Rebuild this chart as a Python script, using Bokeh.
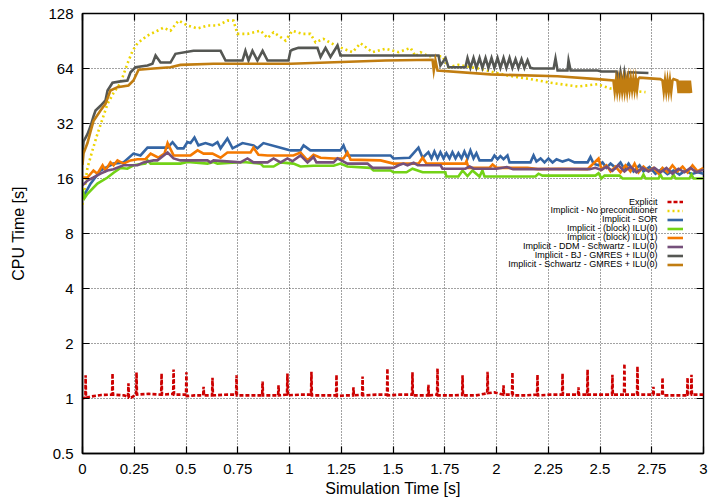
from bokeh.plotting import figure
from bokeh.models import (Range1d, FixedTicker, Legend, LegendItem, Label,
                          LinearAxis, LogAxis, NumeralTickFormatter)
from bokeh.embed import file_html
from bokeh.resources import INLINE

FONT = "Liberation Sans"

# ---------------- axes ----------------
x_ticks = [0, 0.25, 0.5, 0.75, 1, 1.25, 1.5, 1.75, 2, 2.25, 2.5, 2.75, 3]
x_tick_labels = ["0", "0.25", "0.5", "0.75", "1", "1.25", "1.5", "1.75", "2",
                 "2.25", "2.5", "2.75", "3"]
y_ticks = [0.5, 1, 2, 4, 8, 16, 32, 64, 128]
y_tick_labels = ["0.5", "1", "2", "4", "8", "16", "32", "64", "128"]

series_names = [
    "Explicit",
    "Implicit - No preconditioner",
    "Implicit - SOR",
    "Implicit - (block) ILU(0)",
    "Implicit - (block) ILU(1)",
    "Implicit - DDM - Schwartz - ILU(0)",
    "Implicit - BJ - GMRES + ILU(0)",
    "Implicit - Schwartz - GMRES + ILU(0)",
]

# ---------------- data ----------------
red_x = [0.000, 0.010, 0.014, 0.015, 0.017,
         0.040, 0.090,
         0.143, 0.145, 0.147,
         0.200,
         0.220, 0.222, 0.224,
         0.235,
         0.259, 0.261, 0.263,
         0.320,
         0.380, 0.382, 0.384,
         0.438, 0.440, 0.442,
         0.500, 0.502, 0.504,
         0.540,
         0.583, 0.585, 0.587,
         0.626, 0.628, 0.630,
         0.700,
         0.742, 0.744, 0.746,
         0.800,
         0.868, 0.870, 0.872,
         0.945, 0.947, 0.949,
         0.988, 0.990, 0.992,
         1.050,
         1.104, 1.106, 1.108,
         1.170,
         1.225, 1.227, 1.229,
         1.270,
         1.307, 1.309, 1.311,
         1.351, 1.353, 1.355,
         1.420,
         1.471, 1.473, 1.475,
         1.530,
         1.592, 1.594, 1.596,
         1.669, 1.671, 1.673,
         1.713, 1.715, 1.717,
         1.790,
         1.834, 1.836, 1.838,
         1.900,
         1.940,
         1.955, 1.957, 1.959,
         1.990,
         2.032, 2.034, 2.036,
         2.075, 2.077, 2.079,
         2.140,
         2.196, 2.198, 2.200,
         2.260,
         2.317, 2.319, 2.321,
         2.394, 2.396, 2.398,
         2.438, 2.440, 2.442,
         2.500,
         2.558, 2.560, 2.562,
         2.616, 2.618, 2.620,
         2.679, 2.681, 2.683,
         2.720,
         2.756, 2.758, 2.760,
         2.800, 2.802, 2.804,
         2.860,
         2.921, 2.923, 2.925,
         2.940, 2.942, 2.944,
         3.000]
red_y = [1.00, 1.01, 1.01, 1.34, 1.01,
         1.025, 1.045,
         1.05, 1.37, 1.05,
         1.04,
         1.02, 1.21, 1.01,
         1.01,
         1.05, 1.39, 1.05,
         1.06,
         1.05, 1.37, 1.05,
         1.06, 1.44, 1.05,
         1.05, 1.39, 1.03,
         1.04,
         1.04, 1.16, 1.04,
         1.04, 1.30, 1.04,
         1.05,
         1.05, 1.34, 1.04,
         1.04,
         1.04, 1.24, 1.04,
         1.04, 1.18, 1.04,
         1.05, 1.37, 1.04,
         1.05,
         1.05, 1.40, 1.04,
         1.04,
         1.04, 1.35, 1.03,
         1.04,
         1.04, 1.15, 1.04,
         1.05, 1.32, 1.04,
         1.05,
         1.05, 1.46, 1.04,
         1.05,
         1.05, 1.39, 1.04,
         1.04, 1.19, 1.04,
         1.05, 1.46, 1.04,
         1.04,
         1.045, 1.34, 1.04,
         1.04,
         1.06,
         1.07, 1.40, 1.07,
         1.08,
         1.05, 1.18, 1.05,
         1.05, 1.39, 1.04,
         1.04,
         1.05, 1.35, 1.04,
         1.05,
         1.05, 1.37, 1.05,
         1.05, 1.15, 1.05,
         1.05, 1.44, 1.05,
         1.05,
         1.05, 1.35, 1.05,
         1.05, 1.55, 1.05,
         1.05, 1.50, 1.05,
         1.05,
         1.05, 1.16, 1.05,
         1.05, 1.30, 1.04,
         1.04,
         1.04, 1.30, 1.05,
         1.05, 1.35, 1.05,
         1.05]

np_x = [0.000, 0.010, 0.024, 0.048, 0.072, 0.097, 0.121, 0.150, 0.184, 0.217,
        0.242, 0.266, 0.314, 0.362, 0.391, 0.425, 0.464, 0.507, 0.556, 0.604,
        0.652, 0.700, 0.729, 0.749, 0.797, 0.860, 0.894, 0.923, 0.981, 1.014,
        1.063, 1.101, 1.126, 1.164, 1.222, 1.304, 1.343, 1.401, 1.464, 1.527,
        1.585, 1.609, 1.633, 1.671, 1.739, 1.768, 1.816, 1.913, 1.971, 2.053,
        2.164, 2.261, 2.391, 2.488, 2.551, 2.647, 2.720]
np_y = [11.5, 14, 18.3, 22.8, 28, 34, 41, 47, 53.5, 68,
        80, 88, 97, 103, 107, 103, 117, 110, 106, 110,
        110, 117, 117, 99, 99, 103, 94, 101, 91, 103,
        99, 99, 89, 93, 85.5, 78.6, 88, 78.6, 82, 78.6,
        83, 74.7, 78.6, 74.7, 74.7, 65, 67, 64, 61.6, 58.6,
        56, 53.5, 51, 52.5, 49.7, 48.5, 47.5]

sor_x = [0.000, 0.039, 0.087, 0.150, 0.198, 0.246, 0.280, 0.314, 0.411, 0.435,
         0.459, 0.488, 0.507, 0.522, 0.541, 0.560, 0.594, 0.628, 0.652, 0.667,
         0.700, 0.725, 0.773, 0.826, 0.845, 0.874, 0.957, 1.005, 1.053, 1.068,
         1.101, 1.246, 1.261, 1.280, 1.488, 1.502, 1.580, 1.623, 1.643, 1.671,
         1.686, 1.700, 1.715, 1.729, 1.744, 1.758, 1.773, 1.787, 1.802, 1.816,
         1.831, 1.845, 1.860, 1.874, 1.889, 1.903, 1.918, 1.976, 1.990, 2.005,
         2.019, 2.034, 2.053, 2.063, 2.164, 2.179, 2.193, 2.213, 2.232, 2.251,
         2.271, 2.290, 2.319, 2.348, 2.377, 2.440, 2.454, 2.469, 2.493, 2.512,
         2.531, 2.551, 2.575, 2.599, 2.618, 2.638, 2.662, 2.691, 2.710, 2.739,
         2.768, 2.797, 2.826, 2.855, 2.884, 2.913, 2.942, 2.971, 3.000]
sor_y = [12.5, 15, 17.7, 19.3, 19.6, 21.9, 21.4, 23.6, 23.6, 25.3,
         23.4, 23.4, 25.3, 25, 26.8, 24.3, 25, 24.3, 25.3, 23.4,
         26.5, 23.4, 25, 24.3, 23.4, 25, 23.6, 22.8, 22.8, 24.3,
         22.8, 22.8, 24.3, 21.4, 21.4, 20.6, 20.8, 23.6, 20.8, 22.3,
         20.6, 22.5, 20.6, 22.3, 20.6, 22, 20.6, 22.3, 20.6, 22,
         20.6, 22.5, 20.6, 22.8, 20.6, 22, 20.1, 20.1, 21.4, 20.4,
         21.2, 20.4, 21.4, 19.6, 19.6, 21.4, 19.8, 20.6, 19.6, 20.6,
         19.6, 20.4, 19.8, 20.3, 19.6, 19.6, 21, 19.3, 18.9, 19.6,
         18.3, 19.3, 18.3, 19.6, 18.0, 19.3, 17.5, 18.9, 17.5, 18.5,
         17.0, 18.0, 16.9, 17.7, 16.8, 17.7, 16.9, 17.3, 17.0]

ilu0_x = [0.000, 0.010, 0.024, 0.072, 0.121, 0.150, 0.184, 0.217, 0.246, 0.304,
          0.314, 0.329, 0.473, 0.507, 0.604, 0.633, 0.652, 0.778, 0.860, 0.874,
          0.923, 0.957, 1.019, 1.053, 1.116, 1.213, 1.246, 1.280, 1.391, 1.406,
          1.488, 1.502, 1.565, 1.594, 1.643, 1.753, 1.758, 1.816, 1.836, 1.860,
          1.884, 1.918, 1.932, 1.942, 2.188, 2.203, 2.222, 2.478, 2.493, 2.507,
          2.522, 2.594, 2.609, 2.700, 2.710, 2.720, 2.783, 2.792, 2.802, 2.845,
          2.855, 2.865, 2.932, 2.942, 2.952, 3.000]
ilu0_y = [14, 12.5, 13.2, 15, 16.2, 17.2, 18.3, 18.1, 18.9, 19.3,
          20.1, 19.3, 19.3, 19.7, 19.3, 19.7, 19.3, 19.7, 19.3, 18.6,
          18.6, 19.6, 19.3, 18.6, 18.8, 18.8, 19.3, 18.6, 18.3, 17.7,
          17.7, 17.3, 17.3, 18.1, 17.3, 17.3, 16.4, 16.4, 17.7, 16.5,
          17.7, 16.4, 17.7, 16.4, 16.4, 17.0, 16.6, 16.6, 17.1, 16.0,
          16.6, 16.6, 16.0, 16.0, 16.8, 16.0, 16.0, 16.8, 16.0, 16.0,
          16.8, 16.0, 16.0, 16.8, 16.0, 16.0]

ilu1_x = [0.000, 0.024, 0.053, 0.072, 0.097, 0.111, 0.135, 0.150, 0.169, 0.198,
          0.232, 0.266, 0.304, 0.329, 0.367, 0.396, 0.411, 0.440, 0.522, 0.556,
          0.585, 0.628, 0.667, 0.700, 0.812, 0.826, 0.850, 0.894, 1.019, 1.053,
          1.087, 1.116, 1.150, 1.213, 1.261, 1.280, 1.295, 1.440, 1.502, 1.623,
          1.643, 1.662, 1.850, 1.855, 1.865, 1.966, 1.981, 2.000, 2.150, 2.200,
          2.300, 2.440, 2.493, 2.507, 2.531, 2.551, 2.575, 2.599, 2.623, 2.647,
          2.667, 2.686, 2.710, 2.734, 2.758, 2.783, 2.802, 2.826, 2.850, 2.874,
          2.899, 2.923, 2.947, 2.971, 3.000]
ilu1_y = [16.2, 16.2, 17.7, 17.0, 18.9, 17.7, 19.6, 18.9, 20.1, 19.3,
          20.1, 20.4, 20.4, 21.9, 20.8, 21.9, 25, 21.4, 21.4, 22.8,
          21.9, 21.9, 20.8, 22.2, 22.2, 23.6, 21.6, 21.4, 21.4, 22.2,
          20.1, 21.6, 20.8, 20.6, 20.6, 22.2, 20.3, 20.1, 19.3, 19.3,
          20.8, 19.3, 19.3, 19.9, 18.3, 18.3, 19.1, 18.3, 18.3, 18.0,
          18.1, 18.0, 20.6, 18.0, 18.9, 17.5, 18.6, 17.3, 18.9, 17.5,
          19.3, 17.3, 18.6, 17.6, 18.3, 17.0, 18.3, 17.3, 18.9, 17.5,
          18.6, 17.3, 18.9, 17.5, 18.3]

ddm_x = [0.000, 0.024, 0.053, 0.087, 0.121, 0.150, 0.198, 0.266, 0.295, 0.343,
         0.362, 0.411, 0.440, 0.473, 0.604, 0.618, 0.633, 0.763, 0.797, 0.826,
         0.894, 0.923, 0.957, 0.990, 1.014, 1.053, 1.087, 1.116, 1.130, 1.213,
         1.232, 1.280, 1.377, 1.401, 1.502, 1.527, 1.550, 1.570, 1.600, 1.620,
         1.730, 1.739, 1.850, 1.870, 1.890, 2.000, 2.050, 2.080, 2.300, 2.450,
         2.478, 2.507, 2.531, 2.560, 2.589, 2.618, 2.647, 2.676, 2.705, 2.734,
         2.763, 2.792, 2.821, 2.850, 2.879, 2.908, 2.937, 2.966, 3.000]
ddm_y = [14.7, 15.6, 16.2, 17.0, 17.7, 18.0, 18.9, 18.9, 19.6, 20.1,
         20.1, 22.2, 20.6, 20.1, 20.1, 19.6, 20.1, 19.6, 20.6, 19.6,
         19.6, 20.6, 19.6, 20.6, 19.9, 21.4, 19.6, 21.0, 19.6, 19.6,
         20.6, 19.3, 19.3, 18.3, 18.3, 18.9, 19.3, 18.9, 19.5, 18.9,
         18.9, 18.1, 18.1, 18.6, 18.1, 18.1, 18.5, 18.0, 18.0, 18.0,
         18.3, 17.8, 18.6, 17.6, 18.9, 17.5, 18.6, 17.3, 18.3, 17.5,
         18.3, 17.3, 18.3, 17.0, 18.1, 17.3, 18.3, 17.3, 17.9]

bj_x = [0.000, 0.005, 0.015, 0.024, 0.039, 0.053, 0.063, 0.087, 0.111, 0.121,
        0.145, 0.184, 0.217, 0.232, 0.256, 0.314, 0.338, 0.353, 0.377, 0.425,
        0.449, 0.536, 0.667, 0.691, 0.773, 0.787, 0.802, 0.821, 0.845, 0.870,
        0.894, 0.995, 1.005, 1.014, 1.043, 1.135, 1.150, 1.174, 1.198, 1.232,
        1.246, 1.464, 1.720, 1.729, 1.754, 1.768, 1.850, 1.860, 1.874, 1.889,
        1.903, 1.918, 1.932, 1.947, 1.961, 1.976, 1.990, 2.005, 2.019, 2.034,
        2.048, 2.063, 2.077, 2.092, 2.106, 2.121, 2.135, 2.150, 2.164, 2.179,
        2.276, 2.285, 2.295, 2.343, 2.348, 2.358, 2.488, 2.507, 2.580, 2.589,
        2.599, 2.609, 2.618, 2.628, 2.638, 2.734]
bj_y = [22, 25.5, 26.8, 28, 31, 35, 37.7, 40, 42.8, 48.5,
        53.5, 54.4, 55, 61, 65, 66.5, 68, 75.4, 69, 69,
        77, 80, 80, 70.8, 70.8, 80, 70.8, 80, 70.8, 80,
        70.8, 70.8, 80, 81, 83, 83, 74, 83, 74, 85.5,
        75.4, 75.4, 75.4, 66.5, 73, 65, 65, 73, 64.5, 73,
        64.5, 73, 64.5, 73, 64.5, 73, 64.5, 73, 64.5, 73,
        64.5, 73, 64.5, 72, 64.5, 72, 64.5, 71, 64.5, 64,
        64, 72.5, 62.4, 62.4, 70.8, 62.4, 62.4, 61.6, 61.6, 52,
        61, 51.7, 61, 52.5, 61, 60.5]

sw_x = [0.000, 0.005, 0.024, 0.039, 0.053, 0.087, 0.111, 0.135, 0.169, 0.222,
        0.246, 0.271, 0.343, 0.425, 0.473, 0.633, 1.005, 1.464, 1.691, 1.697,
        1.705, 1.715, 1.971, 2.295, 2.488, 2.565, 2.571, 2.577, 2.583, 2.589,
        2.595, 2.601, 2.607, 2.613, 2.619, 2.625, 2.631, 2.637, 2.643, 2.649,
        2.655, 2.661, 2.667, 2.673, 2.679, 2.685, 2.691, 2.792, 2.802, 2.808,
        2.814, 2.820, 2.826, 2.832, 2.838, 2.844, 2.850, 2.855, 2.874, 2.880,
        2.886, 2.892, 2.898, 2.904, 2.910, 2.916, 2.922, 2.928, 2.934, 2.940]
sw_y = [19, 22, 25, 29, 33, 37.7, 41, 48.5, 50.6, 51.7,
        55, 63, 64, 65, 67, 68, 68, 70.8, 71.5, 62.4,
        71, 62.4, 59.4, 58, 56, 55, 48, 55, 48, 55,
        48, 55, 48, 55, 48, 55, 48, 56, 49, 56,
        49, 56, 49, 56, 49, 56, 57, 56, 55, 48,
        55, 48, 55, 48, 55, 48, 55, 56, 55, 47,
        55, 47, 55, 47, 55, 47, 55, 47, 55, 47]

series_x = [red_x, np_x, sor_x, ilu0_x, ilu1_x, ddm_x, bj_x, sw_x]
series_y = [red_y, np_y, sor_y, ilu0_y, ilu1_y, ddm_y, bj_y, sw_y]
colors = ["#cc0000", "#edd400", "#3465a4", "#73d216", "#f57900", "#75507b",
          "#555753", "#c17d11"]
dashes = ["4 2", "2 3", "solid", "solid", "solid", "solid", "solid", "solid"]

# ---------------- figure ----------------
p = figure(width=710, height=501, x_range=Range1d(0, 3), y_range=Range1d(0.5, 128),
           y_axis_type="log", output_backend="svg", toolbar_location=None,
           min_border_left=82, min_border_right=7, min_border_top=13,
           min_border_bottom=48,
           background_fill_color="white", border_fill_color="white")
p.outline_line_color = "black"
p.outline_line_width = 1.5

xa = p.xaxis[0]
ya = p.yaxis[0]
xa.ticker = FixedTicker(ticks=x_ticks, minor_ticks=[])
ya.ticker = FixedTicker(ticks=y_ticks, minor_ticks=[])
xa.formatter = NumeralTickFormatter(format="0.[00]")
ya.formatter = NumeralTickFormatter(format="0.[0]")
xa.major_label_overrides = {t: l for t, l in zip(x_ticks, x_tick_labels)}
ya.major_label_overrides = {t: l for t, l in zip(y_ticks, y_tick_labels)}
xa.axis_label = "Simulation Time [s]"
ya.axis_label = "CPU Time [s]"
for ax in (xa, ya):
    ax.axis_line_color = "black"
    ax.axis_line_width = 1.5
    ax.major_tick_in = 7
    ax.major_tick_out = 0
    ax.major_tick_line_color = "black"
    ax.major_tick_line_width = 1.2
    ax.minor_tick_line_color = None
    ax.major_label_text_font = FONT
    ax.major_label_text_font_size = "15px"
    ax.major_label_text_color = "black"
    ax.axis_label_text_font = FONT
    ax.axis_label_text_font_size = "16px"
    ax.axis_label_text_font_style = "normal"
    ax.axis_label_text_color = "black"
xa.major_label_standoff = 10
ya.major_label_standoff = 9
xa.axis_label_standoff = 3
ya.axis_label_standoff = 18

# mirrored ticks on top and right
top = LinearAxis(ticker=FixedTicker(ticks=x_ticks, minor_ticks=[]),
                 major_label_text_font_size="0px", major_label_standoff=0,
                 major_tick_in=7, major_tick_out=0, axis_line_color=None,
                 major_tick_line_color="black", major_tick_line_width=1.2,
                 minor_tick_line_color=None)
top.major_label_overrides = {t: "" for t in x_ticks}
p.add_layout(top, "above")
right = LogAxis(ticker=FixedTicker(ticks=y_ticks, minor_ticks=[]),
                major_label_text_font_size="0px", major_label_standoff=0,
                major_tick_in=7, major_tick_out=0, axis_line_color=None,
                major_tick_line_color="black", major_tick_line_width=1.2,
                minor_tick_line_color=None)
right.major_label_overrides = {t: "" for t in y_ticks}
p.add_layout(right, "right")

p.xgrid.ticker = FixedTicker(ticks=x_ticks)
p.ygrid.ticker = FixedTicker(ticks=y_ticks)
for g in (p.xgrid[0], p.ygrid[0]):
    g.grid_line_color = "#444444"
    g.grid_line_dash = "1 2"
    g.grid_line_width = 1

renderers = []
for xs, ys, c, d in zip(series_x, series_y, colors, dashes):
    assert len(xs) == len(ys)
    r = p.line(xs, ys, line_color=c, line_width=2.6, line_dash=d,
               line_join="miter")
    renderers.append(r)

legend = Legend(items=[LegendItem(label=" ", renderers=[r]) for r in renderers],
                location=(585, 184), glyph_width=16, glyph_height=9,
                label_height=9, label_width=1, label_standoff=0, spacing=0,
                padding=0, margin=0, border_line_color=None,
                background_fill_alpha=0, label_text_font_size="1px")
p.add_layout(legend)

for i, name in enumerate(series_names):
    p.add_layout(Label(x=575, y=252 - 8.9 * i, x_units="screen", y_units="screen",
                       text=name, text_align="right", text_baseline="middle",
                       text_font=FONT, text_font_size="9px", text_color="black"))

open("out.html", "w").write(file_html(p, INLINE))
